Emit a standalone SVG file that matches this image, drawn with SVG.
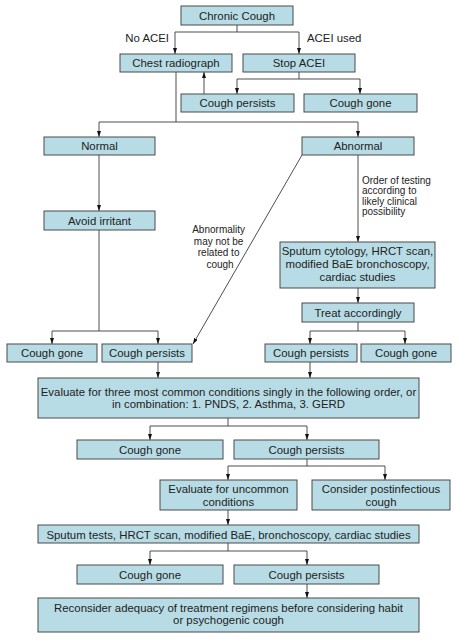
<svg xmlns="http://www.w3.org/2000/svg" width="458" height="640" viewBox="0 0 458 640">
<style>
  .box rect { fill: #b8dce5; stroke: #4a4a4a; stroke-width: 1; }
  .box text, .lbl { font-family: "Liberation Sans", Arial, sans-serif; font-size: 11.4px; fill: #222; text-anchor: middle; }
  .lbl { text-anchor: start; }
  .note { font-family: "Liberation Sans", Arial, sans-serif; font-size: 10px; fill: #222; }
  #connectors path { fill: none; stroke: #3a3a3a; stroke-width: 0.9; }
  #connectors path.arr { marker-end: url(#ah); }
</style>
<defs>
  <marker id="ah" markerUnits="userSpaceOnUse" markerWidth="6" markerHeight="4" refX="6" refY="2" orient="auto">
    <path d="M0,0 L6,2 L0,4 z" fill="#111"/>
  </marker>
</defs>
<rect x="0" y="0" width="458" height="640" fill="#ffffff"/>

<g id="connectors">
  <path d="M237,25 V32 M175,32 H299"/>
  <path class="arr" d="M175,32 V54"/>
  <path class="arr" d="M299,32 V54"/>
  <path d="M299,72 V79 M237,79 H360"/>
  <path class="arr" d="M237,79 V94"/>
  <path class="arr" d="M360,79 V94"/>
  <path class="arr" d="M204,94 V72"/>
  <path d="M176,72 V122 M99,122 H358"/>
  <path class="arr" d="M99,122 V137"/>
  <path class="arr" d="M358,122 V137"/>
  <path class="arr" d="M99,155 V211"/>
  <path d="M99,230 V331 M52,331 H158"/>
  <path class="arr" d="M52,331 V344"/>
  <path class="arr" d="M158,331 V344"/>
  <path class="arr" d="M302,155 L193,344"/>
  <path class="arr" d="M358,155 V242"/>
  <path class="arr" d="M358,288 V303"/>
  <path d="M358,322 V331 M310,331 H405"/>
  <path class="arr" d="M310,331 V344"/>
  <path class="arr" d="M405,331 V344"/>
  <path class="arr" d="M158,362 V378"/>
  <path class="arr" d="M310,362 V378"/>
  <path d="M228,418 V426 M150,426 H307"/>
  <path class="arr" d="M150,426 V440"/>
  <path class="arr" d="M307,426 V440"/>
  <path d="M307,459 V466 M228,466 H385"/>
  <path class="arr" d="M228,466 V480"/>
  <path class="arr" d="M385,466 V480"/>
  <path class="arr" d="M228,510 V525"/>
  <path d="M228,543 V551 M150,551 H307"/>
  <path class="arr" d="M150,551 V565"/>
  <path class="arr" d="M307,551 V565"/>
  <path class="arr" d="M307,584 V598"/>
</g>

<g id="labels">
  <text class="lbl" x="169" y="42" text-anchor="end" style="text-anchor:end">No ACEI</text>
  <text class="lbl" x="307" y="42">ACEI used</text>
  <text class="note" x="220" text-anchor="middle">
    <tspan x="220" y="233">Abnormality</tspan>
    <tspan x="220" y="244.5">may not be</tspan>
    <tspan x="220" y="256">related to</tspan>
    <tspan x="220" y="267.5">cough</tspan>
  </text>
  <text class="note" x="362">
    <tspan x="362" y="183.5">Order of testing</tspan>
    <tspan x="362" y="194">according to</tspan>
    <tspan x="362" y="204.5">likely clinical</tspan>
    <tspan x="362" y="215">possibility</tspan>
  </text>
</g>

<g id="n1" class="box"><rect x="181" y="6" width="112" height="19"/><text x="237" y="19.5">Chronic Cough</text></g>
<g id="n2" class="box"><rect x="120" y="54" width="112" height="18"/><text x="176" y="67">Chest radiograph</text></g>
<g id="n3" class="box"><rect x="243" y="54" width="112" height="18"/><text x="299" y="67">Stop ACEI</text></g>
<g id="n4" class="box"><rect x="181" y="94" width="113" height="18"/><text x="237.5" y="107">Cough persists</text></g>
<g id="n5" class="box"><rect x="304" y="94" width="113" height="18"/><text x="360.5" y="107">Cough gone</text></g>
<g id="n6" class="box"><rect x="44" y="137" width="111" height="18"/><text x="99.5" y="150">Normal</text></g>
<g id="n7" class="box"><rect x="302" y="137" width="112" height="18"/><text x="358" y="150">Abnormal</text></g>
<g id="n8" class="box"><rect x="44" y="211" width="111" height="19"/><text x="99.5" y="224.5">Avoid irritant</text></g>
<g id="n9" class="box"><rect x="280" y="242" width="155" height="46"/>
  <text x="357.5" y="254.5">Sputum cytology, HRCT scan,</text>
  <text x="357.5" y="267.5">modified BaE bronchoscopy,</text>
  <text x="357.5" y="280.7">cardiac studies</text></g>
<g id="n10" class="box"><rect x="302" y="303" width="112" height="19"/><text x="358" y="316.5">Treat accordingly</text></g>
<g id="n11" class="box"><rect x="7" y="344" width="90" height="18"/><text x="52" y="357">Cough gone</text></g>
<g id="n12" class="box"><rect x="102" y="344" width="90" height="18"/><text x="147" y="357">Cough persists</text></g>
<g id="n13" class="box"><rect x="265" y="344" width="92" height="18"/><text x="311" y="357">Cough persists</text></g>
<g id="n14" class="box"><rect x="361" y="344" width="90" height="18"/><text x="406" y="357">Cough gone</text></g>
<g id="n15" class="box"><rect x="38" y="378" width="381" height="40"/>
  <text x="228.5" y="396">Evaluate for three most common conditions singly in the following order, or</text>
  <text x="228.5" y="407.5">in combination: 1. PNDS, 2. Asthma, 3. GERD</text></g>
<g id="n16" class="box"><rect x="77" y="440" width="146" height="19"/><text x="150" y="453.5">Cough gone</text></g>
<g id="n17" class="box"><rect x="234" y="440" width="145" height="19"/><text x="306.5" y="453.5">Cough persists</text></g>
<g id="n18" class="box"><rect x="160" y="480" width="137" height="30"/>
  <text x="228.5" y="492.7">Evaluate for uncommon</text>
  <text x="228.5" y="505.7">conditions</text></g>
<g id="n19" class="box"><rect x="312" y="480" width="138" height="30"/>
  <text x="381" y="492.7">Consider postinfectious</text>
  <text x="381" y="505.7">cough</text></g>
<g id="n20" class="box"><rect x="38" y="525" width="381" height="18"/><text x="228.5" y="538.5">Sputum tests, HRCT scan, modified BaE, bronchoscopy, cardiac studies</text></g>
<g id="n21" class="box"><rect x="77" y="565" width="146" height="19"/><text x="150" y="578.5">Cough gone</text></g>
<g id="n22" class="box"><rect x="234" y="565" width="145" height="19"/><text x="306.5" y="578.5">Cough persists</text></g>
<g id="n23" class="box"><rect x="38" y="598" width="381" height="34"/>
  <text x="228.5" y="612.3">Reconsider adequacy of treatment regimens before considering habit</text>
  <text x="228.5" y="623.8">or psychogenic cough</text></g>
</svg>
